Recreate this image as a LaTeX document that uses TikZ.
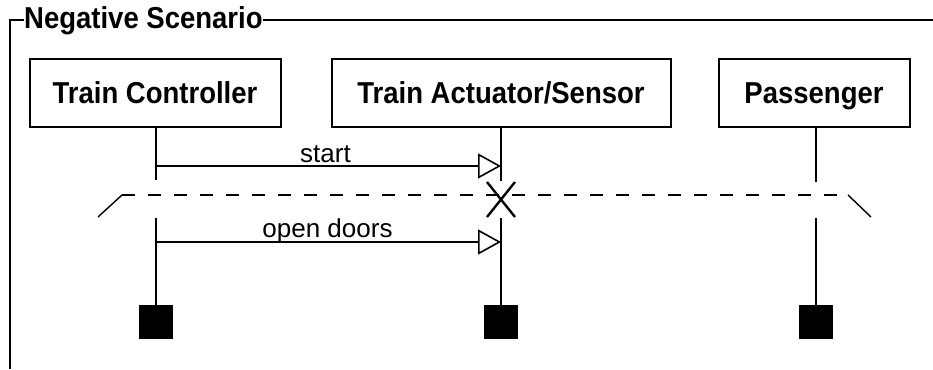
\documentclass[tikz,border=0pt]{standalone}
\usepackage{fontspec}
\usepackage{graphicx}
\setmainfont{Liberation Sans}
\usetikzlibrary{arrows.meta}
\newcommand{\tallbf}[1]{\scalebox{1}[1.1]{#1}}
\begin{document}
\begin{tikzpicture}[x=1pt,y=-1pt,
  obj/.style={draw,line width=2pt,minimum height=68pt,inner sep=0pt,
    font=\fontsize{27.5}{30}\selectfont\bfseries,text height=21.6pt,text depth=0pt},
  endbox/.style={draw,fill=black,minimum size=33pt,inner sep=0pt},
  life/.style={line width=2pt},
  msg/.style={line width=1.6pt,-{Triangle[open,length=23pt,width=25pt,line width=1.6pt]}},
  lbl/.style={font=\fontsize{26}{28}\selectfont,inner sep=0pt,anchor=base},
  frameline/.style={line width=1.6pt}]
\useasboundingbox (0,0) rectangle (933,369);
% frame
\node[anchor=base west,inner sep=0pt,font=\fontsize{27.5}{30}\selectfont\bfseries] (title) at (24,29) {\tallbf{Negative Scenario}};
\coordinate (fb) at (10,369);
\draw[frameline] (fb) -- (10,20) -- (title.west |- 0,20);
\draw[frameline] (title.east |- 0,20) -- (933,20);
% objects
\node[obj,minimum width=251pt] (tc) at (155,93) {\tallbf{Train Controller}};
\node[obj,minimum width=339pt] (act) at (501,93) {\tallbf{Train Actuator/Sensor}};
\node[obj,minimum width=191pt] (pas) at (814,93) {\tallbf{Passenger}};
% end markers
\node[endbox] (tcend) at (156,321.5) {};
\node[endbox] (actend) at (501,321.5) {};
\node[endbox] (pasend) at (816,321.5) {};
% gap coordinates
\coordinate (tcg1) at (156,180);
\coordinate (tcg2) at (156,218);
\coordinate (actg1) at (501,181);
\coordinate (actg2) at (501,218);
\coordinate (pasg1) at (816,182);
\coordinate (pasg2) at (816,218);
% lifelines
\draw[life] (tcend.north |- tc.south) -- (tcg1);
\draw[life] (tcg2) -- (tcend.north);
\draw[life] (actend.north |- act.south) -- (actg1);
\draw[life] (actg2) -- (actend.north);
\draw[life] (pasend.north |- pas.south) -- (pasg1);
\draw[life] (pasg2) -- (pasend.north);
% destruction X
\coordinate (x1) at (487,182);
\coordinate (x2) at (515,217);
\coordinate (x3) at (515,182);
\coordinate (x4) at (487,217);
\draw[line width=2.4pt] (x1) -- (x2) (x3) -- (x4);
% broken line
\coordinate (b0) at (98,217);
\coordinate (b1) at (122,195);
\coordinate (b2) at (848,195);
\coordinate (b3) at (871,217);
\draw[line width=1.4pt] (b0) -- (b1);
\draw[line width=2pt,dash pattern=on 13pt off 13pt] (b1) -- (b2);
\draw[line width=1.4pt] (b2) -- (b3);
% messages
\coordinate (m1a) at (156,166);
\coordinate (m1b) at (501,166);
\coordinate (m2a) at (156,242);
\coordinate (m2b) at (501,242);
\draw[msg] (m1a) -- (m1b);
\draw[msg] (m2a) -- (m2b);
\node[lbl] (l1) at (325.5,162) {start};
\node[lbl] (l2) at (327.5,237) {open doors};
\end{tikzpicture}
\end{document}
